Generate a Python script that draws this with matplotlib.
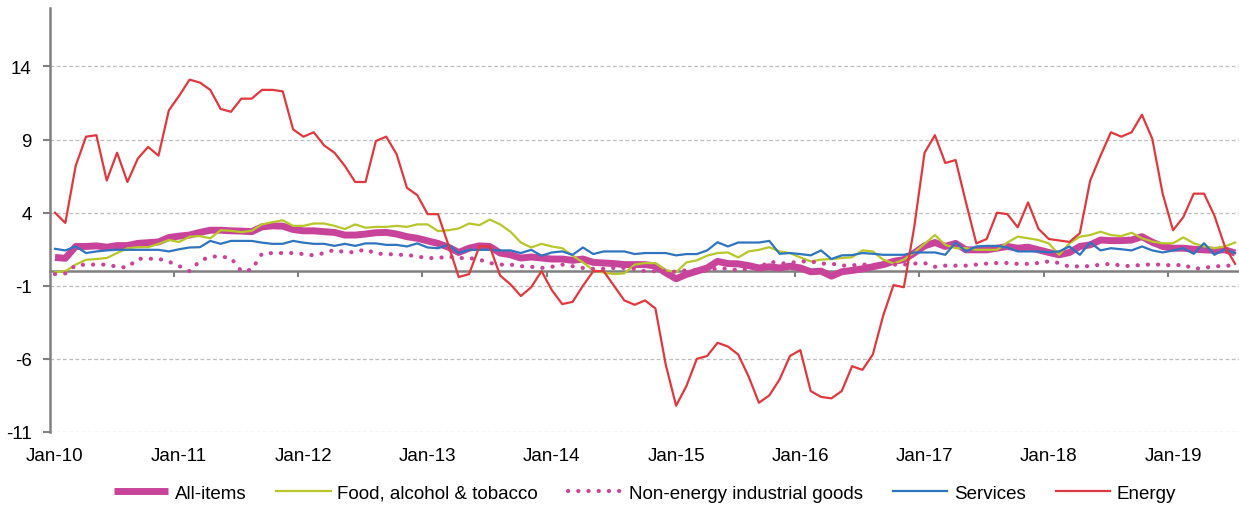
import matplotlib
matplotlib.use("Agg")
import matplotlib.pyplot as plt
import numpy as np

plt.rcParams['font.family'] = ['Liberation Sans Narrow', 'Liberation Sans', 'DejaVu Sans']
plt.rcParams['axes.unicode_minus'] = False

# monthly data, Jan-10 .. Jul-19 (annual rate of change, %)
all_items = [0.94, 0.88, 1.69, 1.69, 1.73, 1.64, 1.75, 1.75, 1.9, 1.95, 2.0, 2.3, 2.4, 2.47, 2.65, 2.8, 2.8, 2.76, 2.74, 2.7,
             3.03, 3.1, 3.08, 2.85, 2.76, 2.76, 2.7, 2.65, 2.47, 2.47, 2.54, 2.63, 2.65, 2.54, 2.36, 2.25, 2.07, 1.9, 1.64,
             1.28, 1.57, 1.73, 1.69, 1.24, 1.12, 0.9, 0.97, 0.9, 0.83, 0.83, 0.74, 0.83, 0.6, 0.56, 0.52, 0.45, 0.45, 0.45, 0.35,
             -0.11, -0.52, -0.22, 0.0, 0.22, 0.67, 0.52, 0.5, 0.38, 0.22, 0.3, 0.22, 0.34, 0.22, -0.04, 0.0, -0.34, -0.04, 0.05,
             0.16, 0.3, 0.45, 0.67, 0.79, 1.24, 1.73, 1.96, 1.69, 1.9, 1.46, 1.46, 1.46, 1.57, 1.69, 1.57, 1.64, 1.46, 1.28,
             1.12, 1.28, 1.69, 1.8, 2.13, 2.09, 2.09, 2.13, 2.36, 1.98, 1.69, 1.57, 1.57, 1.5, 1.46, 1.42, 1.46, 1.24]
food = [-0.07, 0.0, 0.45, 0.78, 0.83, 0.9, 1.24, 1.57, 1.64, 1.64, 1.87, 2.13, 2.0, 2.36, 2.4, 2.25, 2.8, 2.76, 2.67, 2.76,
        3.2, 3.35, 3.48, 3.1, 3.1, 3.26, 3.26, 3.1, 2.88, 3.2, 2.97, 3.03, 3.03, 3.1, 3.03, 3.2, 3.2, 2.74, 2.8,
        2.92, 3.26, 3.15, 3.53, 3.2, 2.7, 1.96, 1.62, 1.87, 1.69, 1.57, 1.06, 0.6, 0.07, -0.1, -0.2, -0.15, 0.45, 0.56, 0.55,
        0.07, -0.07, 0.6, 0.74, 1.06, 1.24, 1.28, 0.94, 1.35, 1.46, 1.64, 1.35, 1.24, 0.94, 0.67, 0.79, 0.83, 0.9, 0.95,
        1.42, 1.35, 0.79, 0.52, 0.79, 1.28, 1.87, 2.47, 1.8, 1.57, 1.57, 1.46, 1.46, 1.46, 1.96, 2.36, 2.25, 2.13, 1.9,
        1.12, 1.91, 2.36, 2.47, 2.7, 2.47, 2.4, 2.63, 2.25, 2.02, 1.91, 1.91, 2.31, 1.91, 1.69, 1.57, 1.69, 1.96]
non_energy = [-0.2, -0.15, 0.4, 0.45, 0.45, 0.45, 0.3, 0.25, 0.85, 0.85, 0.85, 0.65, 0.35, 0.0, 0.7, 1.0, 1.0, 0.9, 0.0, 0.1,
              1.2, 1.24, 1.24, 1.24, 1.17, 1.08, 1.24, 1.46, 1.3, 1.3, 1.5, 1.19, 1.19, 1.12, 1.12, 1.0, 0.9, 0.9, 1.0,
              0.9, 0.9, 0.79, 0.56, 0.45, 0.45, 0.34, 0.3, 0.22, 0.3, 0.45, 0.34, 0.22, 0.16, 0.16, 0.22, 0.22, 0.16, 0.0, 0.0,
              0.0, -0.04, 0.07, 0.07, 0.0, 0.22, 0.16, 0.07, 0.16, 0.22, 0.67, 0.52, 0.56, 0.67, 0.67, 0.52, 0.52, 0.38, 0.4,
              0.45, 0.45, 0.38, 0.45, 0.45, 0.52, 0.56, 0.3, 0.38, 0.38, 0.38, 0.45, 0.52, 0.56, 0.56, 0.5, 0.5, 0.56, 0.67,
              0.56, 0.3, 0.34, 0.34, 0.45, 0.5, 0.38, 0.34, 0.45, 0.45, 0.45, 0.38, 0.45, 0.16, 0.22, 0.34, 0.34, 0.45]
services = [1.53, 1.42, 1.69, 1.24, 1.35, 1.42, 1.46, 1.46, 1.46, 1.46, 1.46, 1.35, 1.5, 1.62, 1.64, 2.07, 1.87, 2.07, 2.07, 2.07,
            1.95, 1.87, 1.87, 2.07, 1.95, 1.87, 1.87, 1.73, 1.87, 1.73, 1.9, 1.9, 1.8, 1.8, 1.69, 1.9, 1.62, 1.57, 1.8,
            1.24, 1.46, 1.46, 1.46, 1.42, 1.42, 1.24, 1.46, 1.06, 1.28, 1.35, 1.12, 1.62, 1.17, 1.35, 1.35, 1.35, 1.17, 1.24, 1.24,
            1.24, 1.08, 1.17, 1.17, 1.42, 1.98, 1.69, 1.96, 1.96, 1.96, 2.07, 1.19, 1.24, 1.17, 1.08, 1.42, 0.83, 1.08, 1.1,
            1.24, 1.19, 1.12, 1.12, 1.12, 1.28, 1.28, 1.28, 1.12, 1.96, 1.35, 1.69, 1.73, 1.73, 1.62, 1.35, 1.35, 1.35, 1.3,
            1.35, 1.69, 1.12, 1.96, 1.42, 1.57, 1.5, 1.42, 1.69, 1.42, 1.28, 1.42, 1.57, 1.19, 1.91, 1.12, 1.5, 1.24]
energy = [4.0, 3.3, 7.2, 9.2, 9.3, 6.2, 8.1, 6.1, 7.7, 8.5, 7.9, 11.0, 12.0, 13.1, 12.9, 12.4, 11.1, 10.9, 11.8, 11.8,
          12.4, 12.4, 12.3, 9.7, 9.2, 9.5, 8.6, 8.1, 7.2, 6.1, 6.1, 8.9, 9.2, 8.0, 5.7, 5.2,
          3.9, 3.9, 1.8, -0.4, -0.2, 1.7, 1.7, -0.3, -0.9, -1.7, -1.1, 0.0, -1.3, -2.25, -2.1, -1.0, 0.0, 0.0, -1.0, -2.0,
          -2.3, -2.0, -2.55, -6.4, -9.2, -7.85, -6.0, -5.8, -4.9, -5.15, -5.7, -7.2, -9.0, -8.5, -7.4, -5.8, -5.4, -8.2, -8.6,
          -8.7, -8.2, -6.5, -6.75, -5.7, -3.05, -0.95, -1.1, 3.0, 8.1, 9.3, 7.4, 7.6, 4.7, 1.9, 2.2, 4.0, 3.9, 3.0, 4.7,
          2.9, 2.2, 2.1, 2.0, 2.6, 6.2, 7.9, 9.5, 9.2, 9.5, 10.7, 9.05, 5.3, 2.8, 3.7, 5.3, 5.3, 3.8, 1.7, 0.5]

year_labels = ["Jan-10", "Jan-11", "Jan-12", "Jan-13", "Jan-14", "Jan-15", "Jan-16", "Jan-17", "Jan-18", "Jan-19"]
y_ticks = [-11, -6, -1, 4, 9, 14]

x = np.arange(len(energy))

fig = plt.figure(figsize=(12.39, 5.06), dpi=100)
ax = fig.add_axes([49.8 / 1239, 1 - 433 / 506, 1190.5 / 1239, (433 - 9) / 506])

ax.plot(x, all_items, color="#C8449A", lw=5.0, solid_capstyle="butt", label="All-items", zorder=3)
ax.plot(x, food, color="#B8C62A", lw=1.6, label="Food, alcohol & tobacco", zorder=4)
ax.plot(x, non_energy, color="#CC4499", lw=3.0, linestyle=(0, (0.05, 2.4)), dash_capstyle="round",
        label="Non-energy industrial goods", zorder=4)
ax.plot(x, services, color="#2F74BE", lw=1.6, label="Services", zorder=5)
ax.plot(x, energy, color="#E0383E", lw=1.6, label="Energy", zorder=6)

ax.set_xlim(-0.5, len(energy) - 0.5)
ax.set_ylim(-11, 18)
ax.set_yticks(y_ticks)
ax.yaxis.grid(True, color="#BDBDBD", linestyle=(0, (3, 2)), lw=0.9)
ax.set_axisbelow(True)

for s in ["top", "right"]:
    ax.spines[s].set_visible(False)
ax.spines["left"].set_color("#808080")
ax.spines["left"].set_linewidth(1.8)
ax.spines["bottom"].set_position(("data", 0))
ax.spines["bottom"].set_color("#808080")
ax.spines["bottom"].set_linewidth(1.8)
ax.spines["bottom"].set_zorder(2)

# year boundaries on the zero line, labels at the bottom
ax.set_xticks(np.arange(11.5, len(energy), 12))
ax.tick_params(axis="x", direction="out", length=4, width=1.5, color="#808080", labelbottom=False)
ax.tick_params(axis="y", direction="out", length=5, width=1.5, color="#808080", labelsize=13.5, pad=8)

sec = ax.secondary_xaxis("bottom")
sec.set_xticks(np.arange(0, len(energy), 12))
sec.set_xticklabels(year_labels)
sec.tick_params(length=0, labelsize=13.5, pad=11)
sec.spines["bottom"].set_visible(False)

fig.legend(loc="center", bbox_to_anchor=(645 / 1239, 1 - 494 / 506), ncol=5, frameon=False,
           fontsize=13.5, handlelength=2.9, handletextpad=0.35, columnspacing=1.6)

fig.savefig("out.png", dpi=100)
